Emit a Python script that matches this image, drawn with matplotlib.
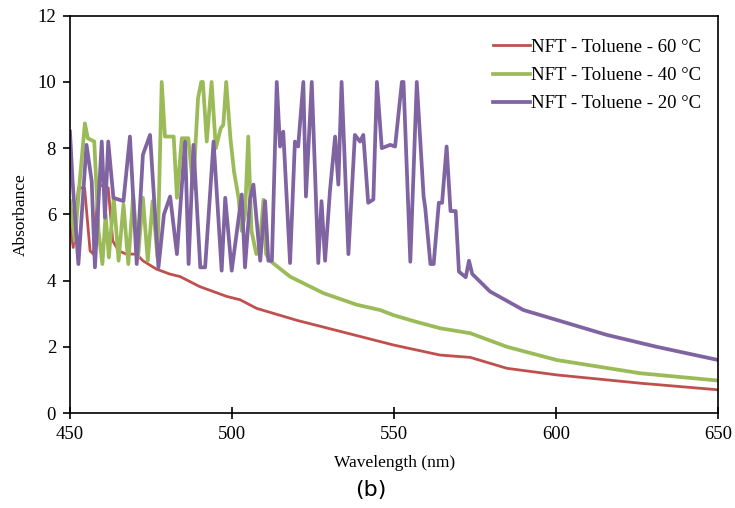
import matplotlib.pyplot as plt

# wavelength (nm) / absorbance
red_x = [450, 451, 452.6, 454.5, 456.2, 457.2, 458.8, 461.8, 463.2, 465, 467.4,
         470.5, 472.5, 476.6, 480.7, 484, 490, 498.4, 502.5, 507.6, 520, 530,
         540, 550, 564.2, 573.5, 584.8, 600.2, 626, 650]
red_y = [5.7, 5.0, 6.8, 6.8, 4.9, 4.8, 6.9, 6.8, 5.2, 4.9, 4.8,
         4.8, 4.6, 4.35, 4.2, 4.12, 3.82, 3.52, 3.42, 3.16, 2.8, 2.55,
         2.3, 2.05, 1.75, 1.68, 1.35, 1.15, 0.9, 0.7]

green_x = [450, 451.5, 453, 454.6, 455.5, 457.5, 458.8, 460, 461, 462, 463.5,
           465, 466.5, 468, 469.5, 471, 472.5, 474, 475.5, 477, 478.3, 479.3,
           482, 483, 484.5, 486.5, 488, 489.5, 490.5, 491, 492.2, 493.7, 495,
           496.5, 497.3, 498.2, 499.5, 500.6, 502, 503, 504, 505, 506, 507.5,
           508.5, 509.7, 510.5, 511.7, 517.9, 528.2, 538.5, 545.7, 550, 557,
           564.2, 573.5, 584.8, 600.2, 626, 650]
green_y = [6.4, 5.2, 7.0, 8.75, 8.3, 8.2, 5.5, 4.5, 6.0, 4.7, 6.5,
           4.6, 6.3, 4.5, 6.6, 4.7, 6.5, 4.6, 6.4, 4.7, 10.0, 8.35,
           8.35, 6.5, 8.3, 8.3, 6.8, 9.5, 10.0, 10.0, 8.2, 10.0, 8.0,
           8.6, 8.7, 10.0, 8.3, 7.3, 6.5, 5.5, 6.0, 8.35, 5.5, 4.8,
           5.0, 6.44, 4.8, 4.6, 4.12, 3.62, 3.27, 3.11, 2.95, 2.75,
           2.56, 2.41, 2.0, 1.6, 1.2, 0.98]

purple_x = [450, 450.8, 452.6, 455.1, 456.7, 457.7, 459.8, 460.8, 461.8, 463.4,
            466.5, 468.5, 470.6, 472.5, 474.7, 477.3, 479, 480.9, 483, 485.5,
            486.6, 488.1, 490.2, 491.7, 494.3, 496.8, 497.9, 499.9, 503, 504,
            505.6, 506.6, 508.7, 510.2, 511.2, 512.3, 513.8, 514.8, 515.8, 517.9,
            519.4, 520.4, 522, 522.8, 524.6, 526.6, 527.6, 528.7, 530.2, 531.8,
            532.8, 533.8, 535.9, 537.9, 539.5, 540.5, 542, 543.6, 544.7, 546.2,
            548.8, 550.3, 552.4, 552.9, 555, 557, 559.1, 559.6, 561.2, 562.2,
            563.8, 564.8, 566.2, 567.4, 569, 570, 572.1, 573.1, 574.1, 576.7,
            579.6, 589.9, 600.2, 615.6, 631, 650]
purple_y = [8.5, 7.0, 4.5, 8.1, 7.0, 4.4, 8.2, 5.9, 8.2, 6.5,
            6.4, 8.35, 4.5, 7.8, 8.4, 4.4, 6.0, 6.54, 4.8, 8.2,
            4.5, 8.1, 4.4, 4.4, 8.2, 4.3, 6.5, 4.3, 6.6, 4.4,
            6.5, 6.9, 4.6, 6.4, 4.6, 4.6, 10.0, 8.05, 8.5, 4.53,
            8.2, 8.05, 10.0, 6.54, 10.0, 4.53, 6.4, 4.6, 6.7, 8.35,
            6.9, 10.0, 4.8, 8.4, 8.2, 8.4, 6.35, 6.45, 10.0, 8.0,
            8.1, 8.05, 10.0, 10.0, 4.57, 10.0, 6.54, 6.2, 4.5, 4.5,
            6.35, 6.35, 8.05, 6.1, 6.1, 4.27, 4.1, 4.6, 4.2, 3.95,
            3.67, 3.11, 2.81, 2.36, 2.0, 1.6]

labels = ['NFT - Toluene - 60 °C', 'NFT - Toluene - 40 °C', 'NFT - Toluene - 20 °C']
colors = ['#C0504D', '#9BBB59', '#8064A2']

plt.rcParams['font.family'] = ['Liberation Serif', 'DejaVu Serif']

fig = plt.figure(figsize=(7.35, 5.08), dpi=100)
ax = fig.add_axes([0.0952, 0.187, 0.882, 0.782])

ax.plot(red_x, red_y, color=colors[0], lw=2.0, label=labels[0])
ax.plot(green_x, green_y, color=colors[1], lw=2.7, label=labels[1])
ax.plot(purple_x, purple_y, color=colors[2], lw=2.7, label=labels[2])

ax.set_xlim(450, 650)
ax.set_ylim(0, 12)
ax.set_xticks([450, 500, 550, 600, 650])
ax.set_yticks(range(0, 13, 2))
ax.tick_params(axis='x', direction='inout', length=8, width=1.2, labelsize=13.5, pad=5)
ax.tick_params(axis='y', direction='out', length=5, width=1.2, labelsize=13.5, pad=5)
for s in ax.spines.values():
    s.set_linewidth(1.2)

ax.set_xlabel('Wavelength (nm)', fontsize=12.5, labelpad=9)
ax.set_ylabel('Absorbance', fontsize=12.5, labelpad=6)

ax.legend(loc='upper right', bbox_to_anchor=(1.0, 0.985), frameon=False,
          fontsize=13.5, handlelength=2.0, handletextpad=0.05, labelspacing=0.6)

fig.text(0.505, 0.035, '(b)', fontsize=16, family='DejaVu Sans', ha='center', va='center')

fig.savefig('out.png', dpi=100)
